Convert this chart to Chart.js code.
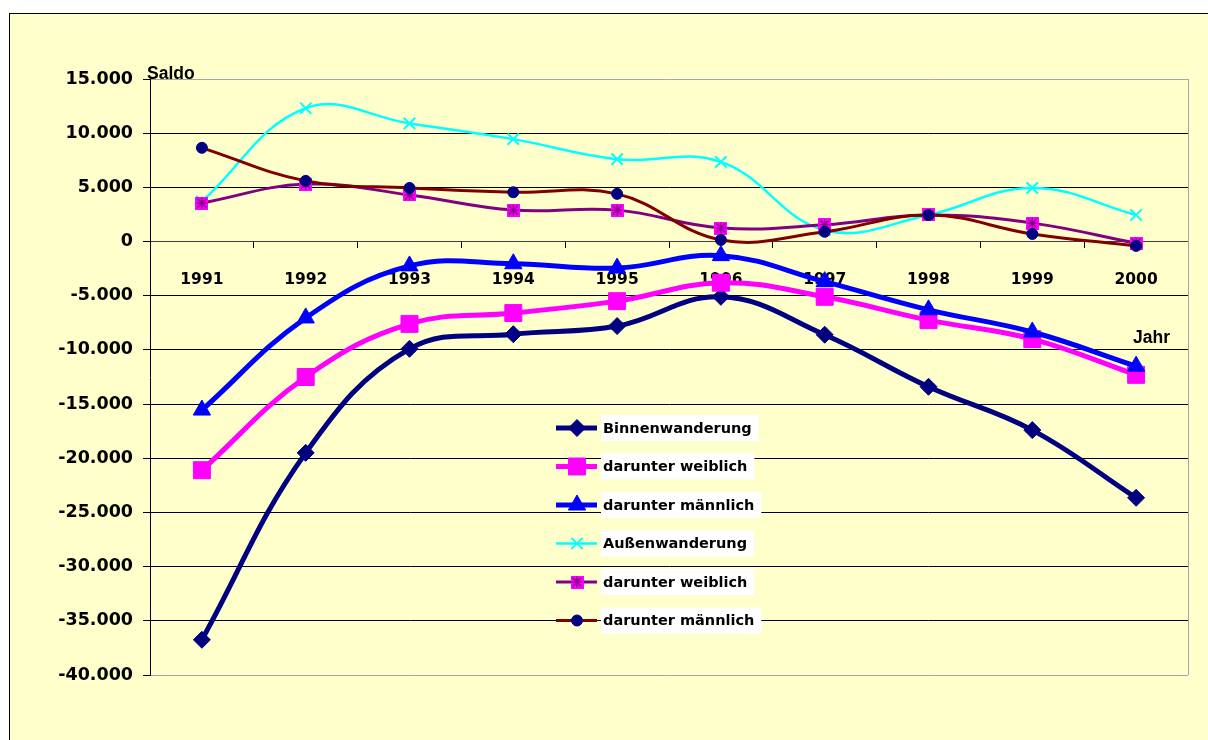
<!DOCTYPE html>
<html>
<head>
<meta charset="utf-8">
<script src="https://cdn.jsdelivr.net/npm/chart.js@4.4.1/dist/chart.umd.min.js"></script>
<style>
    html, body { margin: 0; padding: 0; background: #fff; overflow: hidden; }
    #frame { position: absolute; left: 9px; top: 13px; width: 1300px; height: 800px;
             background: #FFFFCC; border: 1px solid #000; }
    #chart { position: absolute; left: 0; top: 0; }
</style>
</head>
<body>
<div id="frame"></div>
<canvas id="chart" width="1208" height="740"></canvas>
<script>
const years = ['1991', '1992', '1993', '1994', '1995', '1996', '1997', '1998', '1999', '2000'];

const seriesNames = ['Binnenwanderung', 'darunter weiblich', 'darunter männlich',
                     'Außenwanderung', 'darunter weiblich', 'darunter männlich'];

const binnen       = [-36750, -19500, -9900, -8550, -7800, -5100, -8600, -13400, -17400, -23650];
const binnenWeibl  = [-21100, -12500, -7600, -6600, -5500, -3800, -5100, -7250, -9000, -12300];
const binnenMaennl = [-15550, -7050, -2250, -2050, -2450, -1300, -3700, -6300, -8350, -11500];
const aussen       = [3700, 12300, 10900, 9450, 7600, 7350, 1050, 2450, 4950, 2450];
const aussenWeibl  = [3550, 5300, 4300, 2900, 2900, 1250, 1550, 2450, 1700, -150];
const aussenMaennl = [8650, 5600, 4950, 4550, 4400, 150, 900, 2450, 700, -400];

const yMin = -40000, yMax = 15000, yStep = 5000;

const FONT = '"DejaVu Sans", Verdana, sans-serif';
const TITLE_FONT = '"Liberation Sans", Arial, sans-serif';

// magenta square with a dark star, like the Excel marker
function starSquare() {
    const c = document.createElement('canvas');
    c.width = 13; c.height = 13;
    const g = c.getContext('2d');
    g.fillStyle = '#FF00FF';
    g.fillRect(0, 0, 13, 13);
    g.strokeStyle = '#800080';
    g.lineWidth = 1.2;
    g.beginPath();
    g.moveTo(6.5, 1); g.lineTo(6.5, 12);
    g.moveTo(2, 2); g.lineTo(11, 11);
    g.moveTo(11, 2); g.lineTo(2, 11);
    g.moveTo(1, 6.5); g.lineTo(12, 6.5);
    g.stroke();
    return c;
}
const starMarker = starSquare();

function fmt(v) {
    const s = Math.abs(v).toString().replace(/\B(?=(\d{3})+(?!\d))/g, '.');
    return (v < 0 ? '-' : '') + s;
}

const styles = [
    { color: '#000080', fill: '#000080', width: 5, style: 'rectRot', radius: 8.5 },
    { color: '#FF00FF', fill: '#FF00FF', width: 5, style: 'rect', radius: 12 },
    { color: '#0000FF', fill: '#0000FF', width: 5, style: 'triangle', radius: 10 },
    { color: '#00FFFF', fill: '#00FFFF', width: 2.5, style: 'crossRot', radius: 8 },
    { color: '#800080', fill: '#FF00FF', width: 3, style: starMarker, radius: 6.5 },
    { color: '#800000', fill: '#000080', width: 3, style: 'circle', radius: 5.5 }
];
const values = [binnen, binnenWeibl, binnenMaennl, aussen, aussenWeibl, aussenMaennl];

const datasets = values.map((data, i) => ({
    label: seriesNames[i],
    data: data,
    borderColor: styles[i].color,
    backgroundColor: styles[i].fill,
    borderWidth: styles[i].width,
    pointStyle: styles[i].style,
    pointRadius: styles[i].radius,
    pointHoverRadius: styles[i].radius,
    pointBackgroundColor: styles[i].fill,
    pointBorderColor: i === 3 ? styles[i].color : styles[i].fill,
    pointBorderWidth: i === 3 ? 2 : 1,
    tension: 0.4,
    fill: false,
    order: values.length - i
}));

const frameLines = {
    id: 'frameLines',
    beforeDatasetsDraw(chart) {
        const { ctx, chartArea } = chart;
        ctx.save();
        ctx.strokeStyle = '#A6A6A6';
        ctx.lineWidth = 1;
        ctx.beginPath();
        ctx.moveTo(Math.round(chartArea.right) + 0.5, chartArea.top);
        ctx.lineTo(Math.round(chartArea.right) + 0.5, chartArea.bottom);
        ctx.stroke();
        ctx.restore();
    },
    afterDraw(chart) {
        const { ctx, chartArea } = chart;
        ctx.save();
        ctx.fillStyle = '#000';
        ctx.font = 'bold 17.5px ' + TITLE_FONT;
        ctx.textBaseline = 'alphabetic';
        ctx.fillText('Saldo', chartArea.left - 3, chartArea.top - 0.5);
        ctx.fillText('Jahr', chartArea.right - 55, 343);
        ctx.restore();
    }
};

const innerLegend = {
    id: 'innerLegend',
    afterDraw(chart) {
        const ctx = chart.ctx;
        const x0 = 556, x1 = 597, mx = 577, tx = 603;
        ctx.save();
        ctx.font = 'bold 14.5px ' + FONT;
        chart.data.datasets.forEach((ds, i) => {
            const y = 428 + i * 38.5;
            ctx.strokeStyle = ds.borderColor;
            ctx.lineWidth = ds.borderWidth;
            ctx.beginPath();
            ctx.moveTo(x0, y);
            ctx.lineTo(x1, y);
            ctx.stroke();

            ctx.fillStyle = ds.pointBackgroundColor;
            ctx.strokeStyle = ds.pointBorderColor;
            ctx.lineWidth = ds.pointBorderWidth;
            Chart.helpers.drawPoint(ctx, {
                pointStyle: ds.pointStyle,
                radius: ds.pointRadius,
                borderWidth: ds.pointBorderWidth,
                rotation: 0
            }, mx, y);

            const w = ctx.measureText(ds.label).width;
            ctx.fillStyle = '#FFFFFF';
            ctx.fillRect(tx - 2, y - 13, w + 9, 26);
            ctx.fillStyle = '#000';
            ctx.textBaseline = 'middle';
            ctx.fillText(ds.label, tx, y + 1);
        });
        ctx.restore();
    }
};

new Chart(document.getElementById('chart'), {
    type: 'line',
    data: { labels: years, datasets: datasets },
    options: {
        responsive: false,
        animation: false,
        devicePixelRatio: 1,
        layout: { padding: { left: 0, top: 79, right: 20, bottom: 65 } },
        plugins: {
            legend: { display: false },
            tooltip: { enabled: false }
        },
        scales: {
            x: {
                type: 'category',
                position: { y: 0 },
                offset: true,
                grid: {
                    display: true,
                    drawOnChartArea: false,
                    drawTicks: true,
                    tickLength: 6,
                    offset: true,
                    color: '#000'
                },
                border: { display: true, color: '#404040', width: 1 },
                ticks: {
                    color: '#000',
                    padding: 23,
                    maxRotation: 0,
                    font: { family: FONT, size: 15.5, weight: 'bold' }
                }
            },
            y: {
                min: yMin,
                max: yMax,
                afterFit(scale) { scale.width = 150; },
                grid: {
                    color: (c) => (c.tick && (c.tick.value === yMax || c.tick.value === yMin)) ? '#A6A6A6' : '#000',
                    tickColor: '#000',
                    tickLength: 7,
                    lineWidth: 1
                },
                border: { display: true, color: '#000', width: 1 },
                ticks: {
                    stepSize: yStep,
                    padding: 10,
                    color: '#000',
                    font: { family: FONT, size: 17.5, weight: 'bold' },
                    callback: (v) => fmt(v)
                }
            }
        }
    },
    plugins: [frameLines, innerLegend]
});
</script>
</body>
</html>
